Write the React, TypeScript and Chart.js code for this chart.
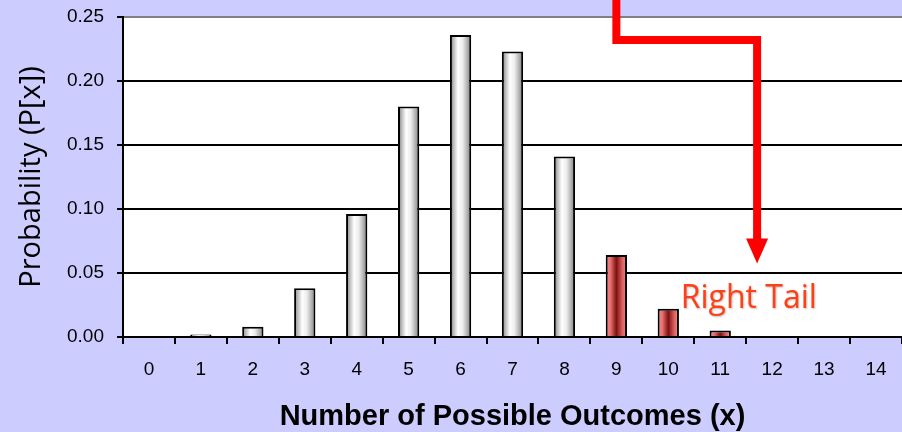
import { useEffect, useRef } from "react";
import { Chart, registerables } from "chart.js";

Chart.register(...registerables);

// Outcomes x = 0..14 and their probabilities P[x]
const outcomes = ["0", "1", "2", "3", "4", "5", "6", "7", "8", "9", "10", "11", "12", "13", "14"];
const probabilities = [0, 0.002, 0.008, 0.038, 0.096, 0.18, 0.236, 0.223, 0.141, 0.064, 0.022, 0.005, 0, 0, 0];
// Outcomes that belong to the right tail (highlighted in red)
const tailOutcomes = [9, 10, 11];
const probabilityTicks = [0, 0.05, 0.1, 0.15, 0.2, 0.25];

const BAR_FRACTION = 0.41;

function barGradient(chart: any, index: number) {
  const tail = tailOutcomes.includes(index);
  const xs = chart.scales && chart.scales.x;
  const ctx = chart.ctx as CanvasRenderingContext2D;
  const cx = xs ? xs.getPixelForValue(index) : NaN;
  const half = xs ? ((xs.width / outcomes.length) * BAR_FRACTION) / 2 : NaN;
  if (!Number.isFinite(cx) || !Number.isFinite(half) || half <= 0) {
    return tail ? "#c04040" : "#d0d0d0";
  }
  const g = ctx.createLinearGradient(cx - half, 0, cx + half, 0);
  if (tail) {
    g.addColorStop(0, "#f68a8a");
    g.addColorStop(0.22, "#ea7070");
    g.addColorStop(0.5, "#7c1010");
    g.addColorStop(0.78, "#dc6060");
    g.addColorStop(1, "#f68a8a");
  } else {
    g.addColorStop(0, "#6e6e6e");
    g.addColorStop(0.15, "#b4b4b4");
    g.addColorStop(0.38, "#ffffff");
    g.addColorStop(0.6, "#ececec");
    g.addColorStop(0.85, "#a8a8a8");
    g.addColorStop(1, "#787878");
  }
  return g;
}

const backgroundPlugin = {
  id: "panelBackground",
  beforeDraw(chart: any) {
    const { ctx, chartArea } = chart;
    ctx.save();
    ctx.fillStyle = "#ccccff";
    ctx.fillRect(0, 0, chart.width, chart.height);
    ctx.fillStyle = "#ffffff";
    ctx.fillRect(chartArea.left, chartArea.top, chartArea.right - chartArea.left, chartArea.bottom - chartArea.top);
    ctx.restore();
  },
};

// Red callout arrow pointing at the right tail, plus its label
const tailCalloutPlugin = {
  id: "tailCallout",
  afterDraw(chart: any) {
    const { ctx, scales } = chart;
    const x = scales.x;
    const y = scales.y;
    const px = (v: number) => x.getPixelForValue(v);
    const py = (v: number) => y.getPixelForValue(v);

    const startX = px(9.0);
    const turnY = py(0.232);
    const endX = px(11.71);
    const headBase = py(0.077);
    const tip = py(0.0575);

    ctx.save();
    ctx.strokeStyle = "#ff0000";
    ctx.fillStyle = "#ff0000";
    ctx.lineWidth = 8;
    ctx.lineJoin = "miter";
    ctx.lineCap = "butt";
    ctx.beginPath();
    ctx.moveTo(startX, 0);
    ctx.lineTo(startX, turnY);
    ctx.lineTo(endX, turnY);
    ctx.lineTo(endX, headBase + 2);
    ctx.stroke();

    ctx.beginPath();
    ctx.moveTo(endX - 11, headBase);
    ctx.lineTo(endX + 11, headBase);
    ctx.lineTo(endX, tip);
    ctx.closePath();
    ctx.fill();

    ctx.shadowColor = "rgba(0,0,0,0.25)";
    ctx.shadowBlur = 2;
    ctx.shadowOffsetX = 1;
    ctx.shadowOffsetY = 1;
    ctx.fillStyle = "#ff4014";
    ctx.font = "32px 'Open Sans', 'Noto Sans', sans-serif";
    ctx.textAlign = "left";
    ctx.textBaseline = "alphabetic";
    ctx.fillText("Right Tail", px(10.24), py(0.0224));
    ctx.restore();
  },
};

export default function App() {
  const canvasRef = useRef<HTMLCanvasElement | null>(null);

  useEffect(() => {
    document.body.style.margin = "0";
    const canvas = canvasRef.current;
    if (!canvas) return;

    const chart = new Chart(canvas, {
      type: "bar",
      data: {
        labels: outcomes,
        datasets: [
          {
            data: probabilities,
            backgroundColor: (c: any) => barGradient(c.chart, c.dataIndex),
            borderColor: "#000000",
            borderWidth: 2,
            barPercentage: BAR_FRACTION,
            categoryPercentage: 1,
          },
        ],
      },
      plugins: [backgroundPlugin, tailCalloutPlugin],
      options: {
        animation: false,
        responsive: false,
        devicePixelRatio: 1,
        layout: { padding: { top: 17, right: 0, bottom: 0, left: 0 } },
        plugins: {
          legend: { display: false },
          tooltip: { enabled: false },
        },
        scales: {
          x: {
            type: "category",
            offset: true,
            afterFit: (scale: any) => {
              scale.height = 95;
              scale.paddingLeft = 0;
              scale.paddingRight = 0;
            },
            grid: {
              offset: true,
              drawOnChartArea: false,
              drawTicks: true,
              tickLength: 7,
              color: "#000000",
              lineWidth: 2,
            },
            border: { display: true, color: "#000000", width: 2 },
            ticks: {
              color: "#000000",
              padding: 14,
              font: { family: "Arial, 'Liberation Sans', sans-serif", size: 19 },
            },
            title: {
              display: true,
              text: "Number of Possible Outcomes (x)",
              color: "#000000",
              font: { family: "Arial, 'Liberation Sans', sans-serif", size: 29, weight: "bold", lineHeight: 1 },
              padding: { top: 0, bottom: 1 },
            },
          },
          y: {
            min: 0,
            max: 0.25,
            afterFit: (scale: any) => {
              scale.width = 123;
              scale.paddingTop = 0;
              scale.paddingBottom = 0;
            },
            afterBuildTicks: (scale: any) => {
              scale.ticks = probabilityTicks.map((v) => ({ value: v }));
            },
            grid: {
              drawTicks: true,
              tickLength: 6,
              lineWidth: 2,
              color: (c: any) =>
                c.tick && Math.abs(c.tick.value - 0.25) < 1e-9 ? "#808080" : "#000000",
              tickColor: "#000000",
            },
            border: { display: true, color: "#000000", width: 2 },
            ticks: {
              color: "#000000",
              padding: 13,
              font: { family: "Arial, 'Liberation Sans', sans-serif", size: 19 },
              callback: (v: any) => Number(v).toFixed(2),
            },
            title: {
              display: true,
              text: "Probability (P[x])",
              color: "#000000",
              font: { family: "'Open Sans', 'Noto Sans', sans-serif", size: 29 },
              padding: { top: 14, bottom: 0 },
            },
          },
        },
      } as any,
    });

    return () => chart.destroy();
  }, []);

  return (
    <div style={{ width: 902, height: 432 }}>
      <canvas ref={canvasRef} width={902} height={432} style={{ display: "block", width: 902, height: 432 }} />
    </div>
  );
}
